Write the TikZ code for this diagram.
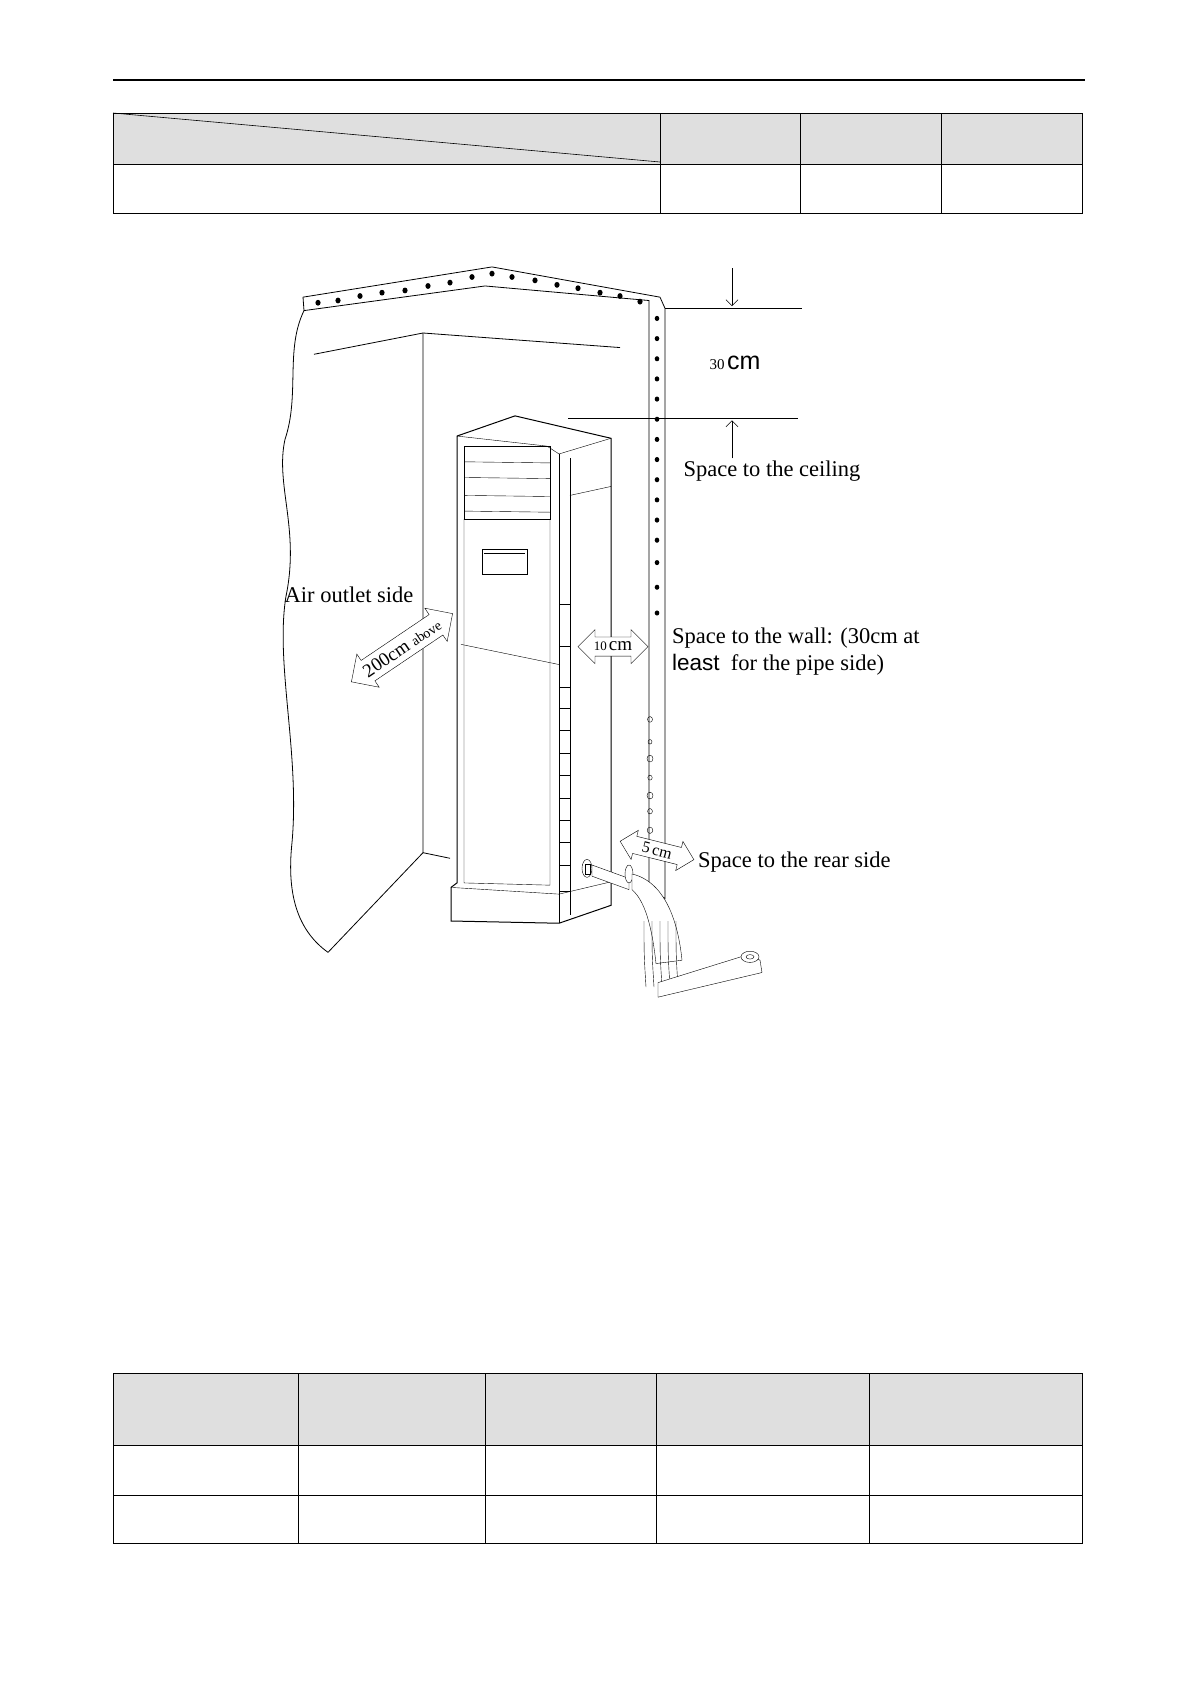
\documentclass[tikz,border=0pt]{standalone}
\usepackage{fontspec}
\setmainfont{Liberation Serif}
\setsansfont{Liberation Sans}
\usetikzlibrary{shapes.arrows,arrows.meta}
\tikzset{
  cell/.style={draw,line width=0.9pt},
  head/.style={cell,fill=gray!25},
  lbl/.style={font=\fontsize{22.5}{26}\selectfont,inner sep=1pt},
  space/.style={draw,double arrow,double arrow head extend=6pt,inner sep=3pt,
    minimum height=70pt,font=\fontsize{16}{18}\selectfont,fill=white},
  wallline/.style={line width=0.8pt},
  dim/.style={-{Straight Barb[length=6pt]},line width=0.6pt}
}
\begin{document}
\begin{tikzpicture}[x=1pt,y=-1pt]
\useasboundingbox (0,0) rectangle (1191,1684);
% header rule
\draw[line width=1.2pt] (113,80) -- (1085,80);
% top table
\draw[head] (113,113) rectangle (660,164);
\foreach \a/\b in {660/800,800/941,941/1082}
  \draw[head] (\a,113) rectangle (\b,164);
\draw[cell] (113,164) rectangle (660,213);
\foreach \a/\b in {660/800,800/941,941/1082}
  \draw[cell] (\a,164) rectangle (\b,213);
\draw[line width=0.6pt] (113,113) -- (660,162);
% bottom table
\foreach \a/\b in {113/298,298/485,485/656,656/869,869/1082}{
  \draw[head] (\a,1373) rectangle (\b,1445);
  \draw[cell] (\a,1445) rectangle (\b,1495);
  \draw[cell] (\a,1495) rectangle (\b,1543);
}
\begin{scope}[cm={1,0,0,1.12,(0pt,31pt)}]
% ceiling band and side wall
\draw[wallline,fill=white] (303,293) -- (492,266) -- (660,293) -- (665,303) -- (665,830)
  -- (649,820) -- (649,296) -- (485,283) -- (304,305) -- cycle;
\foreach \x/\y in {318/298,338/296,360/292,382/289,405/287,428/283,450/280,472/275,492/272,512/275,535/278,557/282,578/285,600/289,620/292,640/297}
  \fill (\x,\y) circle (2.6pt);
\foreach \y in {312,330,348,366,384,402,420,438,456,474,492,510,530,552,575}
  \fill (657,\y) circle (2.3pt);
\foreach \y/\r in {670/2.5,690/2,705/3,722/2.2,738/3,752/2.4,769/2.8}
  \draw (650,\y) circle (\r pt);
\draw[white,line width=3pt] (657,585) -- (657,660);
% wavy left wall and room corner
\draw[wallline] (304,305) .. controls (285,340) and (300,380) .. (285,420)
  .. controls (275,460) and (300,500) .. (286,560)
  .. controls (275,620) and (300,700) .. (292,780)
  .. controls (286,830) and (300,860) .. (328,878);
\draw[wallline] (328,878) -- (423,789);
\draw[wallline] (423,325) -- (423,789) -- (450,794);
\draw[wallline] (314,344) -- (423,325) -- (620,338);
% dimension to ceiling
\draw[line width=0.6pt] (665,303) -- (802,303);
\draw[line width=0.6pt] (568,401) -- (798,401);
\draw[dim] (732,267) -- (732,301);
\draw[dim] (732,437) -- (732,403);
\node[inner sep=1pt] (gap) at (735,352) {\fontsize{15}{16}\selectfont 30\,\fontsize{25}{26}\sffamily cm};
\node[lbl] (ceil) at (772,448) {Space to the ceiling};
% indoor unit
\draw[line width=1pt,fill=white] (457,417) -- (515,399) -- (611,419) -- (611,836) -- (559,852)
  -- (451,850) -- (451,820) -- (457,816) -- cycle;
\draw (457,417) -- (547,426) -- (559,433) -- (611,419);
\draw (559,433) -- (559,852);
\draw (570,437) -- (570,845);
\draw (464,426) rectangle (550,491);
\foreach \y in {440,454,470,484} \draw (464,\y) -- (550,\y+1);
\draw (464,491) -- (464,816) -- (550,818) -- (550,491);
\draw (482,518) rectangle (527,540);
\draw (484,522) -- (525,522);
\draw (461,603) -- (559,621);
\draw (559,567) rectangle (570,605);
\draw (559,641) rectangle (570,823);
\foreach \y in {660,680,700,720,740,760,780,800} \draw (559,\y) -- (570,\y);
\draw (451,820) -- (559,826) -- (611,815);
\draw (570,470) -- (611,462);
% pipe and drain
\draw (587,803) ellipse (5pt and 8pt);
\draw (585,799) rectangle (590,808);
\draw[fill=white] (592,800) -- (629,812) -- (629,822) -- (592,810) -- cycle;
\draw[fill=white] (629,808) ellipse (4pt and 8pt);
\draw[fill=white] (632,808) .. controls (665,815) and (678,850) .. (682,885)
  -- (656,888) .. controls (652,855) and (645,832) .. (632,822) -- cycle;
\foreach \x in {650,658,666,674,682} \draw (\x-6,850) .. controls (\x-6,880) .. (\x-4,909);
\draw[fill=white] (658,905) -- (748,880) -- (760,885) -- (762,896) -- (658,918) -- cycle;
\draw[fill=white] (750,882) ellipse (9pt and 5pt);
\draw (750,882) ellipse (4pt and 2pt);
% labels
\node[lbl] (outletlbl) at (349,559) {Air outlet side};
\node[lbl,anchor=west] (wall1) at (671,597) {Space to the wall: (30cm at};
\node[lbl,anchor=west] (wall2) at (671,621) {{\sffamily least}\ \ for the pipe side)};
\node[lbl,anchor=west] (rear) at (697,797) {Space to the rear side};
% clearance arrows
\node[space,rotate=34,minimum height=122pt,minimum width=40pt,font=\fontsize{19}{20}\selectfont] (outlet) at (402,606) {200cm \fontsize{14}{15}\selectfont above};
\node[space,minimum height=70pt,minimum width=34pt] (wallgap) at (613,605) {\fontsize{13}{14}\selectfont 10\,\fontsize{19}{20}\selectfont cm};
\node[space,rotate=-14,minimum height=76pt,minimum width=30pt] (reargap) at (657,787) {\fontsize{16}{17}\selectfont 5\,cm};
\end{scope}
\end{tikzpicture}
\end{document}
